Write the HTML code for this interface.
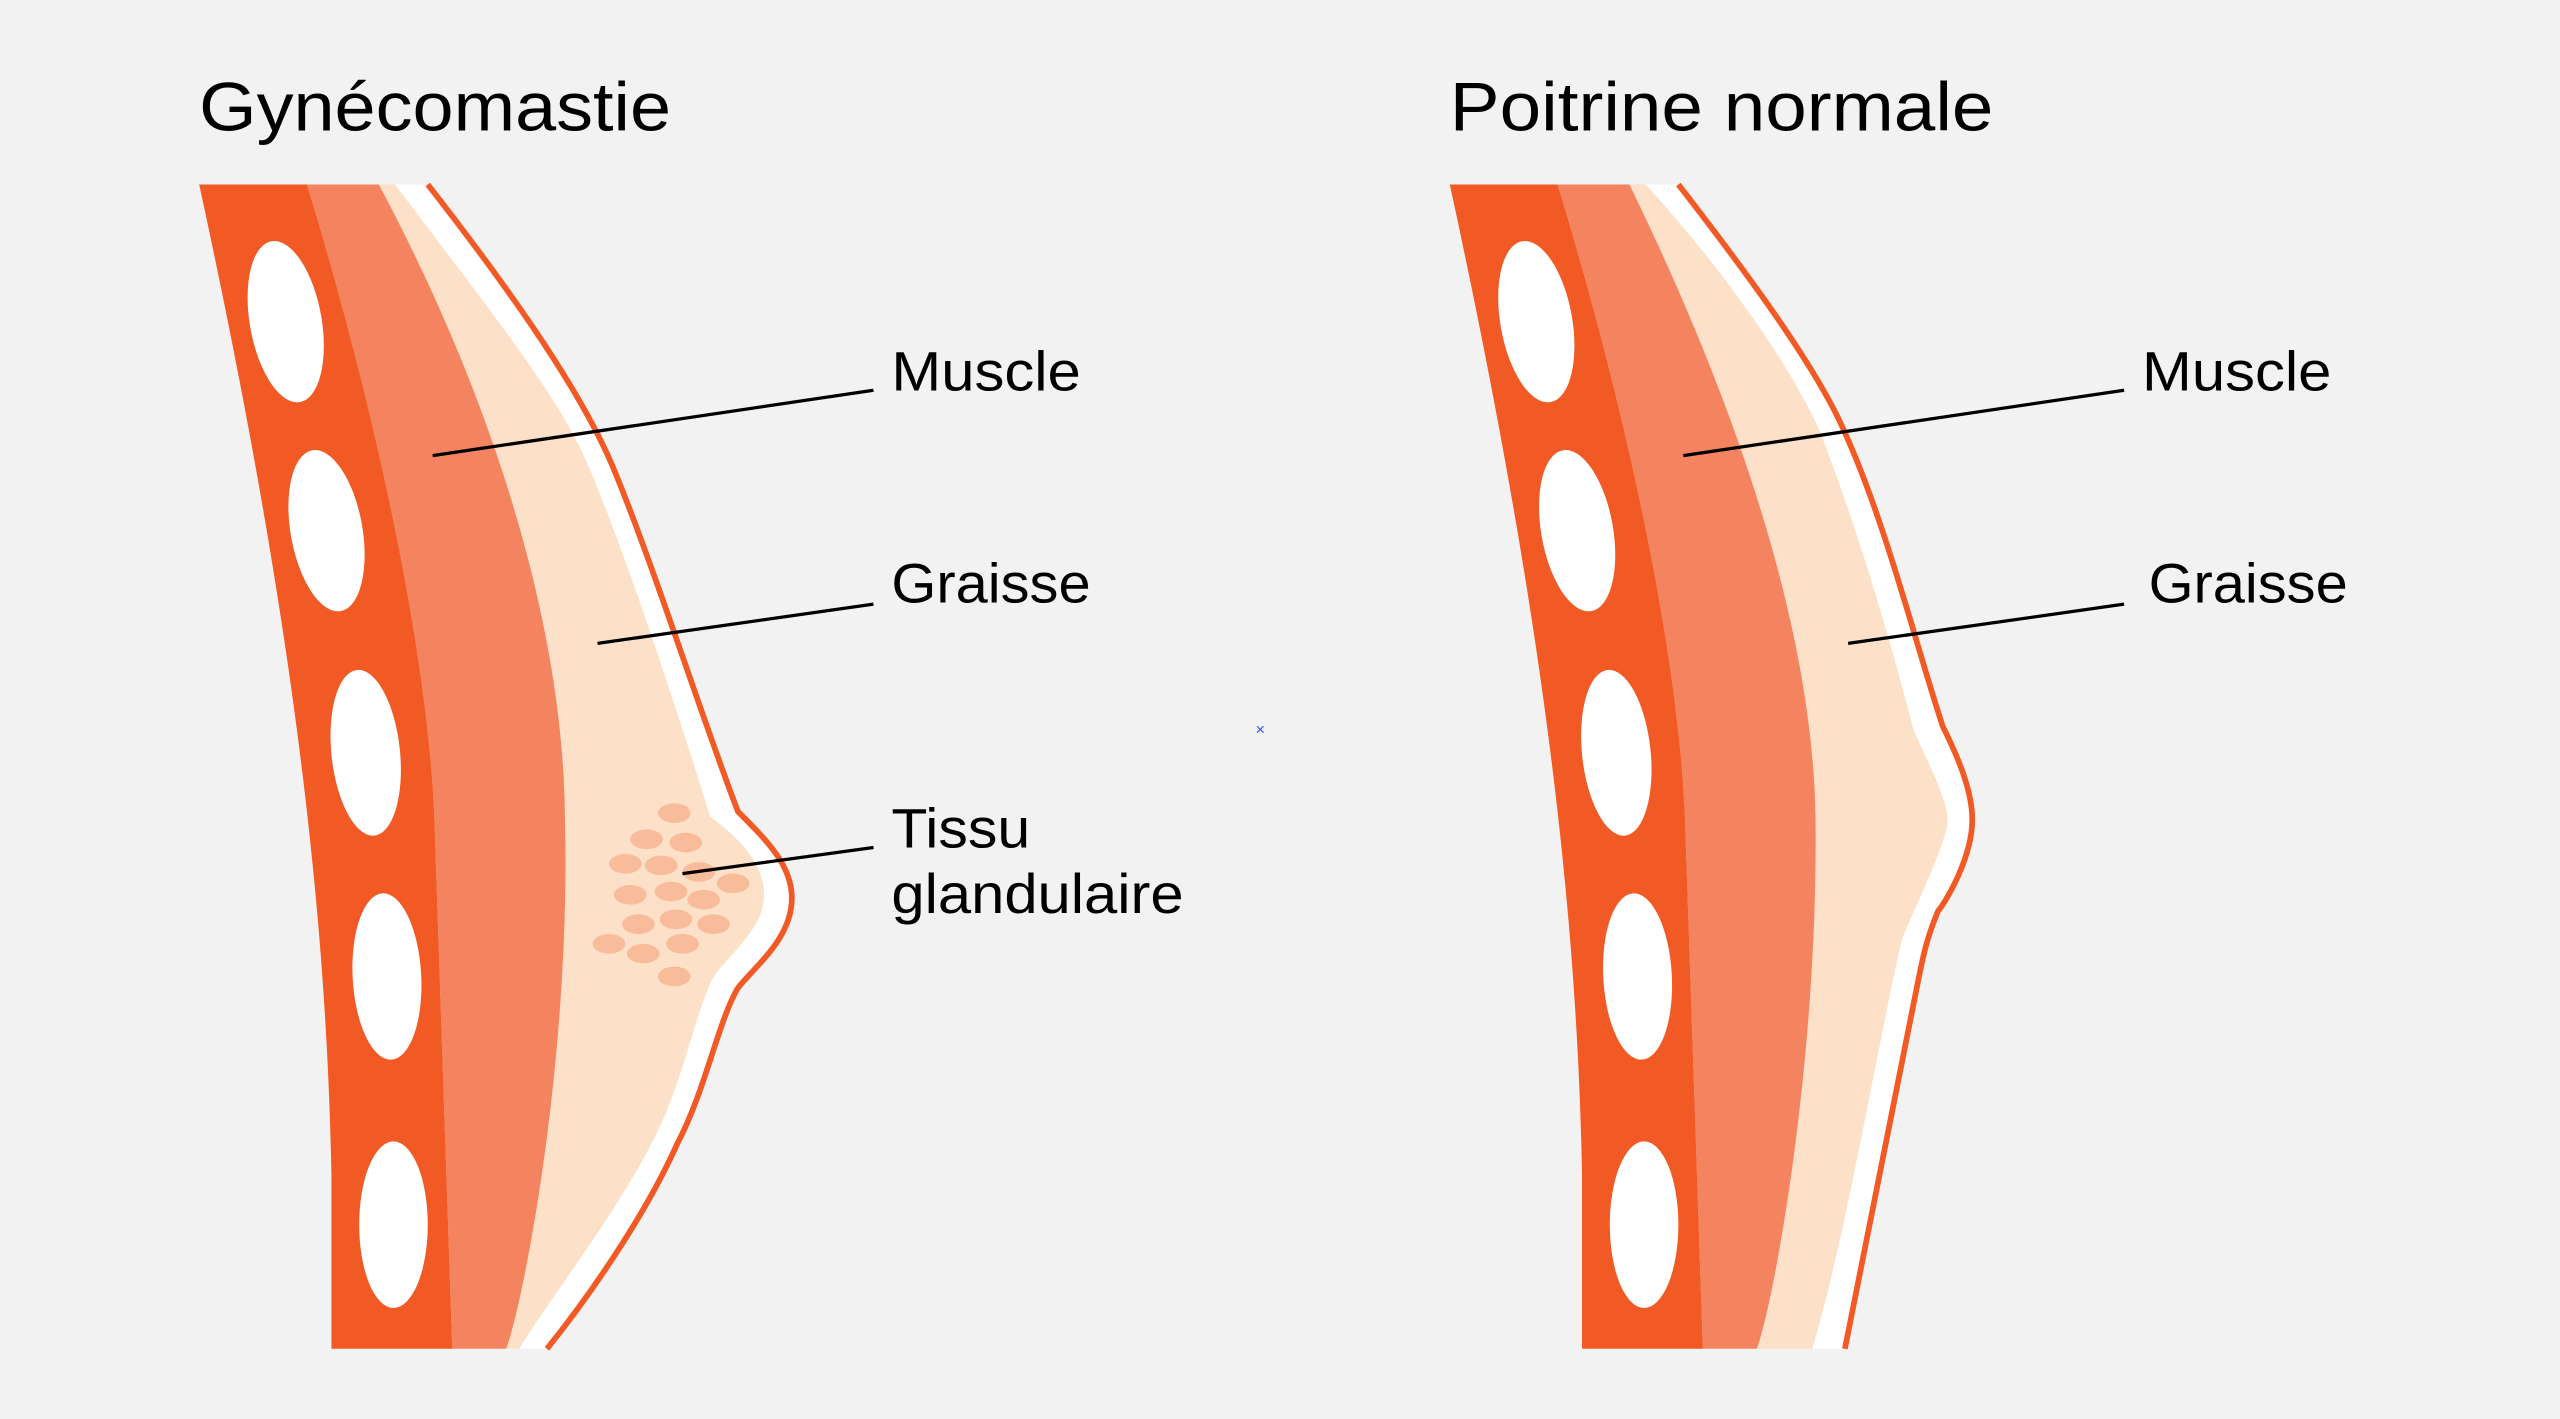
<!DOCTYPE html>
<html><head><meta charset="utf-8"><style>
html,body{margin:0;padding:0;background:#f2f2f2;}
svg{display:block;}
text{font-family:"Liberation Sans",sans-serif;fill:#000;}
</style></head><body>
<svg width="2560" height="1419" viewBox="0 0 1568 869" preserveAspectRatio="none" xmlns="http://www.w3.org/2000/svg">
<rect width="1568" height="869" fill="#f2f2f2"/>
<text x="122" y="80" font-size="42" textLength="289" lengthAdjust="spacingAndGlyphs">Gynécomastie</text>
<text x="888" y="80" font-size="42" textLength="333" lengthAdjust="spacingAndGlyphs">Poitrine normale</text>

<!-- LEFT -->
<g>
<path d="M232,113 L262,113 C330,200 360,250 375,285 C400,345 430,440 452,497 C470,515 485,530 485,550 C485,575 462,592 452,605 C440,625 432,668 415,700 C395,745 360,795 335,826 L310,826 C320,800 350,650 346,500 C345,380 300,240 232,113Z" fill="#fff"/>
<path d="M242,113 C300,190 340,240 358,280 C380,330 410,420 435,500 C455,515 468,530 468,548 C468,570 445,585 436,600 C425,625 418,660 405,688 C382,738 340,790 318,826 L310,826 C320,800 350,650 346,500 C345,380 300,240 232,113Z" fill="#fde0c8"/>
<path d="M262,113 C330,200 360,250 375,285 C400,345 430,440 452,497 C470,515 485,530 485,550 C485,575 462,592 452,605 C440,625 432,668 415,700 C395,745 360,795 335,826" fill="none" stroke="#f15a24" stroke-width="3.5"/>
<path d="M188,113 L232,113 C300,240 345,380 346,500 C350,650 320,800 310,826 L277,826 L266,500 C262,400 230,250 188,113Z" fill="#f4845f"/>
<path d="M122,113 L188,113 C230,250 262,400 266,500 L277,826 L203,826 L203,720 C200,560 180,380 122,113Z" fill="#f15a24"/>
<g fill="#fff">
<ellipse cx="175" cy="197" rx="22" ry="50" transform="rotate(-10 175 197)"/>
<ellipse cx="200" cy="325" rx="22" ry="50" transform="rotate(-10 200 325)"/>
<ellipse cx="224" cy="461" rx="21" ry="51" transform="rotate(-6 224 461)"/>
<ellipse cx="237" cy="598" rx="21" ry="51" transform="rotate(-3 237 598)"/>
<ellipse cx="241" cy="750" rx="21" ry="51"/>
</g>
<g fill="#f9bc9a">
<ellipse cx="413" cy="498" rx="10" ry="6"/><ellipse cx="396" cy="514" rx="10" ry="6"/><ellipse cx="420" cy="516" rx="10" ry="6"/>
<ellipse cx="383" cy="529" rx="10" ry="6"/><ellipse cx="405" cy="530" rx="10" ry="6"/><ellipse cx="428" cy="534" rx="10" ry="6"/>
<ellipse cx="449" cy="541" rx="10" ry="6"/><ellipse cx="386" cy="548" rx="10" ry="6"/><ellipse cx="411" cy="546" rx="10" ry="6"/>
<ellipse cx="431" cy="551" rx="10" ry="6"/><ellipse cx="391" cy="566" rx="10" ry="6"/><ellipse cx="414" cy="563" rx="10" ry="6"/>
<ellipse cx="437" cy="566" rx="10" ry="6"/><ellipse cx="373" cy="578" rx="10" ry="6"/><ellipse cx="394" cy="584" rx="10" ry="6"/>
<ellipse cx="418" cy="578" rx="10" ry="6"/><ellipse cx="413" cy="598" rx="10" ry="6"/>
</g>
<g stroke="#000" stroke-width="2">
<line x1="265" y1="279" x2="535" y2="239"/>
<line x1="366" y1="394" x2="535" y2="370"/>
<line x1="418" y1="535" x2="535" y2="519"/>
</g>
<text x="546" y="239" font-size="34" textLength="116" lengthAdjust="spacingAndGlyphs">Muscle</text>
<text x="546" y="369" font-size="34" textLength="122" lengthAdjust="spacingAndGlyphs">Graisse</text>
<text x="546" y="519" font-size="34" textLength="85" lengthAdjust="spacingAndGlyphs">Tissu</text>
<text x="546" y="559" font-size="34" textLength="179" lengthAdjust="spacingAndGlyphs">glandulaire</text>
</g>

<!-- RIGHT -->
<g>
<path d="M998,113 L1028,113 C1080,180 1115,230 1130,265 C1155,320 1175,400 1190,445 C1200,465 1208,485 1208,502 C1208,525 1192,552 1187,558 C1180,575 1178,585 1175,600 L1130,826 L1076,826 C1086,800 1114,650 1112,500 C1110,380 1060,240 998,113Z" fill="#fff"/>
<path d="M1008,113 C1060,170 1100,230 1115,265 C1140,330 1160,400 1172,447 C1180,465 1193,490 1193,502 C1193,515 1170,562 1165,575 C1150,640 1130,760 1110,826 L1076,826 C1086,800 1114,650 1112,500 C1110,380 1060,240 998,113Z" fill="#fde0c8"/>
<path d="M1028,113 C1080,180 1115,230 1130,265 C1155,320 1175,400 1190,445 C1200,465 1208,485 1208,502 C1208,525 1192,552 1187,558 C1180,575 1178,585 1175,600 L1130,826" fill="none" stroke="#f15a24" stroke-width="3.5"/>
<path d="M954,113 L998,113 C1060,240 1110,380 1112,500 C1114,650 1086,800 1076,826 L1043,826 L1032,500 C1028,400 996,250 954,113Z" fill="#f4845f"/>
<path d="M888,113 L954,113 C996,250 1028,400 1032,500 L1043,826 L969,826 L969,720 C966,560 946,380 888,113Z" fill="#f15a24"/>
<g fill="#fff">
<ellipse cx="941" cy="197" rx="22" ry="50" transform="rotate(-10 941 197)"/>
<ellipse cx="966" cy="325" rx="22" ry="50" transform="rotate(-10 966 325)"/>
<ellipse cx="990" cy="461" rx="21" ry="51" transform="rotate(-6 990 461)"/>
<ellipse cx="1003" cy="598" rx="21" ry="51" transform="rotate(-3 1003 598)"/>
<ellipse cx="1007" cy="750" rx="21" ry="51"/>
</g>
<g stroke="#000" stroke-width="2">
<line x1="1031" y1="279" x2="1301" y2="239"/>
<line x1="1132" y1="394" x2="1301" y2="370"/>
</g>
<text x="1312" y="239" font-size="34" textLength="116" lengthAdjust="spacingAndGlyphs">Muscle</text>
<text x="1316" y="369" font-size="34" textLength="122" lengthAdjust="spacingAndGlyphs">Graisse</text>
</g>

<text x="769" y="450" font-size="10" fill="#3355ff" style="fill:#3355ff">×</text>
</svg>
</body></html>
